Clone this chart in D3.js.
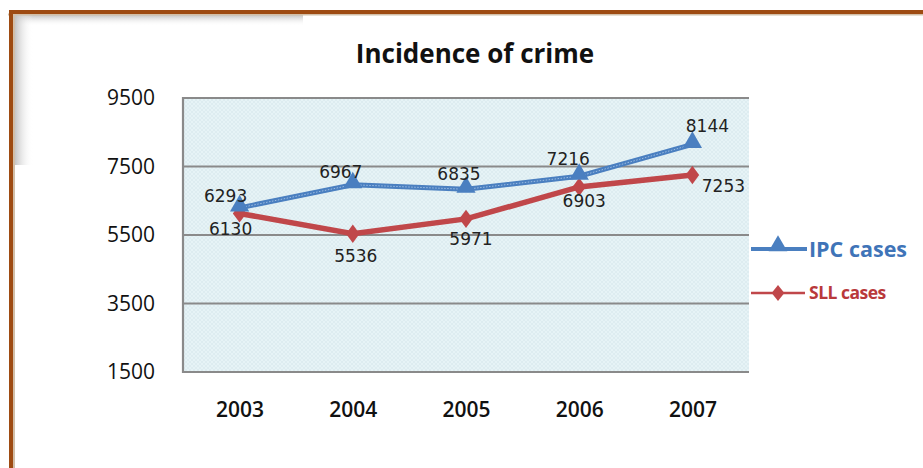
<!DOCTYPE html>
<html>
<head>
<meta charset="utf-8">
<script src="https://cdn.jsdelivr.net/npm/d3@7"></script>
<style>
  body { margin: 0; background: #fff; }
  svg { display: block; }
</style>
</head>
<body>
<svg id="chart" width="923" height="468"></svg>
<script>
// data
var years = ['2003', '2004', '2005', '2006', '2007'];
var ipcCases = [6293, 6967, 6835, 7216, 8144];
var sllCases = [6130, 5536, 5971, 6903, 7253];
var yTicks = [1500, 3500, 5500, 7500, 9500];

var svg = d3.select('#chart');
var defs = svg.append('defs');

// frame shadow gradients
var gTop = defs.append('linearGradient').attr('id', 'shTop')
  .attr('x1', 0).attr('y1', 0).attr('x2', 0).attr('y2', 1);
gTop.append('stop').attr('offset', '0%').attr('stop-color', '#b8b8b8');
gTop.append('stop').attr('offset', '100%').attr('stop-color', '#fff').attr('stop-opacity', 0);
var gLeft = defs.append('linearGradient').attr('id', 'shLeft')
  .attr('x1', 0).attr('y1', 0).attr('x2', 1).attr('y2', 0);
gLeft.append('stop').attr('offset', '0%').attr('stop-color', '#b8b8b8');
gLeft.append('stop').attr('offset', '100%').attr('stop-color', '#fff').attr('stop-opacity', 0);

// plot area texture
var pat = defs.append('pattern').attr('id', 'bgTex')
  .attr('width', 4).attr('height', 4).attr('patternUnits', 'userSpaceOnUse');
pat.append('rect').attr('width', 4).attr('height', 4).attr('fill', '#e6f3f6');
pat.append('path').attr('d', 'M0,4 L4,0 M0,0 L4,4')
  .attr('stroke', '#d6e8ed').attr('stroke-width', 0.6);

// shadows + brown frame
svg.append('rect').attr('x', 13).attr('y', 14).attr('width', 290).attr('height', 12)
  .attr('fill', 'url(#shTop)');
svg.append('rect').attr('x', 13).attr('y', 14).attr('width', 20).attr('height', 151)
  .attr('fill', 'url(#shLeft)');
svg.append('line').attr('x1', 8).attr('x2', 923).attr('y1', 14.5).attr('y2', 14.5)
  .attr('stroke', '#d2bfa8').attr('stroke-width', 2);
svg.append('line').attr('x1', 14).attr('x2', 14).attr('y1', 12).attr('y2', 468)
  .attr('stroke', '#d2bfa8').attr('stroke-width', 2);
svg.append('line').attr('x1', 9).attr('x2', 923).attr('y1', 12).attr('y2', 12)
  .attr('stroke', '#9e4b12').attr('stroke-width', 4);
svg.append('line').attr('x1', 11).attr('x2', 11).attr('y1', 10).attr('y2', 468)
  .attr('stroke', '#9e4b12').attr('stroke-width', 4);

var plotL = 183, plotR = 749, plotT = 98, plotB = 372;

var x = d3.scalePoint().domain(years).range([plotL, plotR]).padding(0.5);
var y = d3.scaleLinear().domain([1500, 9500]).range([plotB, plotT]);

// plot background
svg.append('rect').attr('x', plotL).attr('y', plotT)
  .attr('width', plotR - plotL).attr('height', plotB - plotT)
  .attr('fill', 'url(#bgTex)');

// gridlines
svg.append('g').selectAll('line').data(yTicks).join('line')
  .attr('x1', plotL).attr('x2', plotR)
  .attr('y1', function (d) { return y(d); }).attr('y2', function (d) { return y(d); })
  .attr('stroke', '#8a8a8a').attr('stroke-width', 2.2);
svg.append('line').attr('x1', plotL).attr('x2', plotL).attr('y1', plotT - 1).attr('y2', plotB + 1)
  .attr('stroke', '#8a8a8a').attr('stroke-width', 2.2);

// y axis labels
var yAxis = svg.append('g').attr('transform', 'translate(' + (plotL - 28) + ',0)')
  .call(d3.axisLeft(y).tickValues(yTicks).tickSize(0).tickPadding(0).tickFormat(d3.format('d')));
yAxis.select('.domain').remove();
yAxis.selectAll('text')
  .attr('font-family', 'Open Sans').attr('font-size', 21).attr('fill', '#111');

// x axis labels
var xAxis = svg.append('g').attr('transform', 'translate(0,' + (plotB + 29) + ')')
  .call(d3.axisBottom(x).tickSize(0).tickPadding(0));
xAxis.select('.domain').remove();
xAxis.selectAll('text')
  .attr('font-family', 'Open Sans').attr('font-weight', 600)
  .attr('font-size', 21).attr('fill', '#111').attr('dy', '0.75em');

var line = d3.line().x(function (d, i) { return x(years[i]); }).y(function (d) { return y(d); });

var blue = '#4a7fc0', red = '#c0474a';

// SLL series
svg.append('path').datum(sllCases).attr('d', line)
  .attr('fill', 'none').attr('stroke', red).attr('stroke-width', 5.5);
svg.append('g').selectAll('path').data(sllCases).join('path')
  .attr('d', d3.symbol(d3.symbolDiamond, 120))
  .attr('transform', function (d, i) { return 'translate(' + x(years[i]) + ',' + y(d) + ') scale(1.15,0.9)'; })
  .attr('fill', red);

// IPC series
svg.append('path').datum(ipcCases).attr('d', line)
  .attr('fill', 'none').attr('stroke', blue).attr('stroke-width', 5);
svg.append('path').datum(ipcCases).attr('d', line)
  .attr('fill', 'none').attr('stroke', '#9cbde3').attr('stroke-width', 1)
  .attr('stroke-dasharray', '1.5,1.5');
svg.append('g').selectAll('path').data(ipcCases).join('path')
  .attr('d', d3.symbol(d3.symbolTriangle, 160))
  .attr('transform', function (d, i) { return 'translate(' + x(years[i]) + ',' + (y(d) - 2) + ')'; })
  .attr('fill', blue);

// data labels
var ipcOff = [[-14, -6], [-12, -7], [-7, -9], [-11, -11], [15, -12]];
var sllOff = [[-9, 22], [3, 28], [5, 26], [5, 20], [31, 17]];
svg.append('g').selectAll('text').data(ipcCases).join('text')
  .attr('x', function (d, i) { return x(years[i]) + ipcOff[i][0]; })
  .attr('y', function (d, i) { return y(d) + ipcOff[i][1]; })
  .attr('text-anchor', 'middle')
  .attr('font-family', 'DejaVu Sans').attr('font-size', 17).attr('fill', '#222')
  .text(function (d) { return d; });
svg.append('g').selectAll('text').data(sllCases).join('text')
  .attr('x', function (d, i) { return x(years[i]) + sllOff[i][0]; })
  .attr('y', function (d, i) { return y(d) + sllOff[i][1]; })
  .attr('text-anchor', 'middle')
  .attr('font-family', 'DejaVu Sans').attr('font-size', 17).attr('fill', '#222')
  .text(function (d) { return d; });

// title
svg.append('text').attr('x', 475).attr('y', 63).attr('text-anchor', 'middle')
  .attr('font-family', 'Open Sans').attr('font-weight', 700).attr('font-size', 26)
  .attr('fill', '#111').text('Incidence of crime');

// legend
var lg = svg.append('g');
lg.append('line').attr('x1', 751).attr('x2', 807).attr('y1', 249).attr('y2', 249)
  .attr('stroke', blue).attr('stroke-width', 4);
lg.append('path').attr('d', d3.symbol(d3.symbolTriangle, 150))
  .attr('transform', 'translate(778,246)').attr('fill', blue);
lg.append('text').attr('x', 809).attr('y', 257)
  .attr('font-family', 'Open Sans').attr('font-weight', 700).attr('font-size', 21.5)
  .attr('fill', '#3f74b8').text('IPC cases');
lg.append('line').attr('x1', 751).attr('x2', 805).attr('y1', 293).attr('y2', 293)
  .attr('stroke', red).attr('stroke-width', 2.5);
lg.append('path').attr('d', d3.symbol(d3.symbolDiamond, 90))
  .attr('transform', 'translate(778,293) scale(1.25,0.9)').attr('fill', red);
lg.append('text').attr('x', 809).attr('y', 299)
  .attr('font-family', 'Open Sans').attr('font-weight', 700).attr('font-size', 17.5)
  .attr('letter-spacing', '-0.5').attr('fill', '#b9393b').text('SLL cases');
</script>
</body>
</html>
